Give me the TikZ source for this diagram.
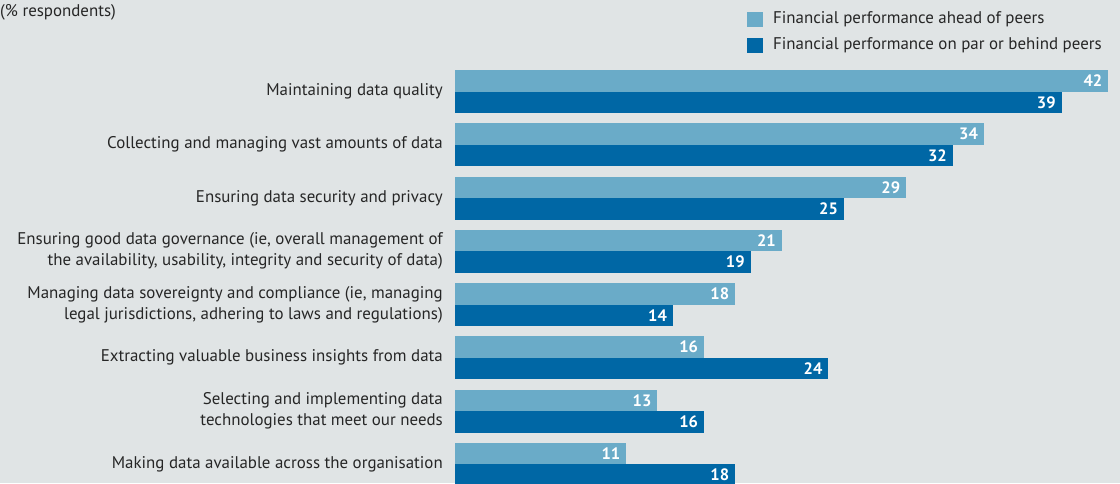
\documentclass[tikz,border=0pt]{standalone}
\usepackage{fontspec}
\setmainfont{PT Sans}
\usetikzlibrary{positioning}
\definecolor{bgGray}{HTML}{E0E4E5}
\definecolor{aheadBlue}{HTML}{6AABC8}
\definecolor{parBlue}{HTML}{0067A5}
\definecolor{labelGray}{HTML}{262626}

\begin{document}
\begin{tikzpicture}[x=1pt,y=-1pt,
  font=\fontsize{16.9}{21}\selectfont,
  bar/.style={anchor=west,inner sep=0,minimum height=21.5pt,minimum width=#1*15.55pt},
  ahead/.style={bar=#1,fill=aheadBlue},
  par/.style={bar=#1,fill=parBlue},
  value/.style={anchor=east,inner ysep=0,inner xsep=6pt,text=white,font=\fontsize{16.5}{20}\selectfont\bfseries},
  item/.style={anchor=east,align=right,inner sep=0,text=labelGray,font=\fontsize{16.9}{21}\selectfont},
  key/.style={anchor=north west,inner sep=0,minimum width=16pt,minimum height=15.5pt}]
  \fill[bgGray] (0,0) rectangle (1120,483);
  \useasboundingbox (0,0) rectangle (1120,483);

  % title and legend
  \node[anchor=west,inner sep=0,text=labelGray] (title) at (0,12) {(\% respondents)};
  \node[key,fill=aheadBlue] (k1) at (747,11.5) {};
  \node[key,fill=parBlue] (k2) at (747,37.5) {};
  \node[anchor=west,inner sep=0,text=labelGray] (k1t) at (773,19.5) {Financial performance ahead of peers};
  \node[anchor=west,inner sep=0,text=labelGray] (k2t) at (773,45.5) {Financial performance on par or behind peers};

  % bars
  \node[ahead=42] (a1) at (455,80.75) {};
  \node[par=39] (p1) at (455,102.25) {};
  \node[ahead=34] (a2) at (455,134) {};
  \node[par=32] (p2) at (455,155.5) {};
  \node[ahead=29] (a3) at (455,187.25) {};
  \node[par=25] (p3) at (455,208.75) {};
  \node[ahead=21] (a4) at (455,240.5) {};
  \node[par=19] (p4) at (455,262) {};
  \node[ahead=18] (a5) at (455,293.75) {};
  \node[par=14] (p5) at (455,315.25) {};
  \node[ahead=16] (a6) at (455,347) {};
  \node[par=24] (p6) at (455,368.5) {};
  \node[ahead=13] (a7) at (455,400.25) {};
  \node[par=16] (p7) at (455,421.75) {};
  \node[ahead=11] (a8) at (455,453.5) {};
  \node[par=18] (p8) at (455,475) {};

  % values
  \node[value] (a1v) at (a1.east) {42};
  \node[value] (p1v) at (p1.east) {39};
  \node[value] (a2v) at (a2.east) {34};
  \node[value] (p2v) at (p2.east) {32};
  \node[value] (a3v) at (a3.east) {29};
  \node[value] (p3v) at (p3.east) {25};
  \node[value] (a4v) at (a4.east) {21};
  \node[value] (p4v) at (p4.east) {19};
  \node[value] (a5v) at (a5.east) {18};
  \node[value] (p5v) at (p5.east) {14};
  \node[value] (a6v) at (a6.east) {16};
  \node[value] (p6v) at (p6.east) {24};
  \node[value] (a7v) at (a7.east) {13};
  \node[value] (p7v) at (p7.east) {16};
  \node[value] (a8v) at (a8.east) {11};
  \node[value] (p8v) at (p8.east) {18};

  % row labels
  \node[item] (l1) at (443,91.5) {Maintaining data quality};
  \node[item] (l2) at (443,144.75) {Collecting and managing vast amounts of data};
  \node[item] (l3) at (443,198) {Ensuring data security and privacy};
  \node[item] (l4) at (443,251.25) {Ensuring good data governance (ie, overall management of\\the availability, usability, integrity and security of data)};
  \node[item] (l5) at (443,304.5) {Managing data sovereignty and compliance (ie, managing\\legal jurisdictions, adhering to laws and regulations)};
  \node[item] (l6) at (443,357.75) {Extracting valuable business insights from data};
  \node[item] (l7) at (443,411) {Selecting and implementing data\\technologies that meet our needs};
  \node[item] (l8) at (443,464.25) {Making data available across the organisation};
\end{tikzpicture}
\end{document}
